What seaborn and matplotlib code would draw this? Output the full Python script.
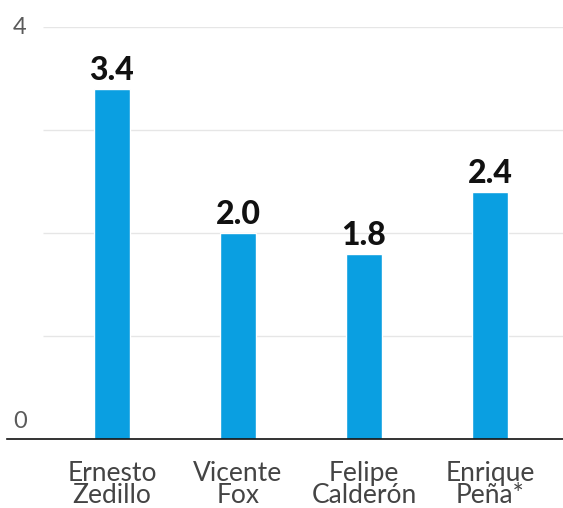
import matplotlib
matplotlib.use("Agg")
import matplotlib.pyplot as plt
import seaborn as sns
import pandas as pd

categories = ["Ernesto\nZedillo", "Vicente\nFox", "Felipe\nCalderón", "Enrique\nPeña*"]
values = [3.4, 2.0, 1.8, 2.4]
value_labels = ["3.4", "2.0", "1.8", "2.4"]
y_ticks = [0, 4]
grid_levels = [1, 2, 3, 4]

sns.set_theme(style="white")
plt.rcParams['font.family'] = ['Lato', 'DejaVu Sans']

df = pd.DataFrame({"name": categories, "value": values})

fig = plt.figure(figsize=(5.63, 5.08), dpi=100)
ax = fig.add_axes([7/563, 1 - 439/508, (563-7)/563, (439-27)/508])
ax.set_ylim(0, 4)

for g in grid_levels:
    ax.hlines(g, -0.55, 3.58, color="#e6e6e6", lw=1.0, zorder=0)

sns.barplot(data=df, x="name", y="value", color="#0a9fe1", width=0.285,
            saturation=1, ax=ax, zorder=2)
ax.set_xlim(-0.833, 3.58)

for i, (v, lab) in enumerate(zip(values, value_labels)):
    ax.text(i, v + 0.087, lab, ha="center", va="baseline", fontsize=23,
            fontweight="black", color="#111111")

for t in y_ticks:
    if t == max(y_ticks):
        ax.text(-0.786, t + 0.015, str(t), ha="left", va="center_baseline", fontsize=17,
                color="#5a5a5a")
    else:
        ax.text(-0.786, t + 0.105, str(t), ha="left", va="baseline", fontsize=17,
                color="#5a5a5a")

ax.set_xticks(range(len(categories)))
ax.set_xticklabels(categories, fontsize=19, color="#444444", linespacing=0.84)
ax.tick_params(axis="x", length=0, pad=16)
ax.set_yticks([])
ax.set_xlabel("")
ax.set_ylabel("")
for s in ["top", "right", "left"]:
    ax.spines[s].set_visible(False)
ax.spines["bottom"].set_color("#111111")
ax.spines["bottom"].set_linewidth(1.2)

fig.savefig("out.png", dpi=100, facecolor="white")
